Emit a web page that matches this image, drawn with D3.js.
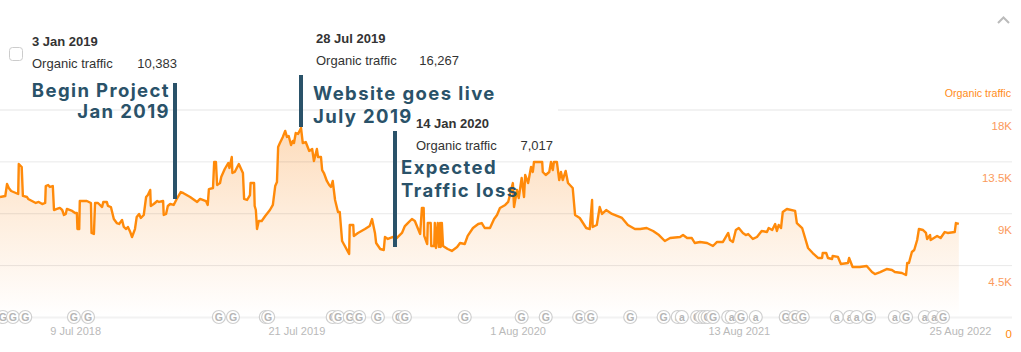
<!DOCTYPE html>
<html>
<head>
<meta charset="utf-8">
<script src="https://cdn.jsdelivr.net/npm/d3@7"></script>
<style>
    body { margin: 0; background: #fff; }
    text { font-family: "Liberation Sans", Arial, sans-serif; }
    .note { font-family: Inter, "Open Sans", sans-serif; font-weight: 700; font-size: 18.5px; letter-spacing: 1.4px; fill: #2a5269; }
    .tip { font-size: 13px; fill: #333; }
</style>
</head>
<body>
<div id="chart"></div>
<script>
const startDate = new Date(2018, 2, 3);

// days since startDate
const trafficDays = [
    0, 9, 12, 15, 19, 31, 32, 37, 39, 46, 48, 61, 66, 72, 77, 78, 82, 85, 90, 92,
    97, 102, 106, 109, 112, 114, 123, 128, 131, 132, 135, 136, 148, 155, 156, 160, 162, 167, 174, 176,
    182, 184, 189, 194, 199, 203, 208, 211, 215, 218, 222, 225, 230, 233, 237, 240, 245, 249, 252, 256,
    257, 262, 268, 271, 278, 279, 283, 286, 290, 296, 302, 308, 312, 324, 336, 341, 351, 354, 356, 363,
    365, 368, 370, 375, 377, 383, 389, 391, 395, 396, 400, 407, 414, 416, 421, 426, 427, 433, 434, 436,
    438, 441, 446, 452, 460, 465, 469, 472, 474, 477, 482, 486, 489, 492, 496, 499, 501, 504, 508, 513,
    516, 521, 527, 532, 535, 540, 542, 547, 549, 552, 557, 561, 564, 567, 571, 576, 579, 583, 595, 596,
    602, 603, 610, 622, 630, 634, 639, 641, 648, 654, 656, 661, 670, 676, 685, 690, 695, 702, 707, 716,
    719, 722, 723, 728, 729, 734, 735, 740, 741, 743, 746, 748, 750, 751, 753, 755, 763, 770, 779, 784,
    792, 797, 806, 815, 821, 826, 835, 842, 847, 852, 861, 866, 874, 876, 881, 884, 889, 893, 895, 900,
    905, 908, 910, 924, 925, 930, 936, 939, 942, 944, 949, 953, 956, 959, 964, 968, 976, 980, 988, 999,
    1005, 1009, 1010, 1017, 1022, 1026, 1033, 1043, 1060, 1070, 1082, 1091, 1102, 1113, 1123, 1133, 1142, 1159, 1164, 1171,
    1179, 1184, 1193, 1205, 1215, 1222, 1232, 1241, 1244, 1249, 1254, 1259, 1266, 1271, 1275, 1283, 1290, 1298, 1307, 1310,
    1316, 1321, 1324, 1327, 1331, 1334, 1341, 1355, 1358, 1367, 1377, 1385, 1394, 1401, 1402, 1408, 1411, 1418, 1419, 1428,
    1433, 1445, 1447, 1453, 1465, 1477, 1486, 1491, 1500, 1511, 1520, 1525, 1537, 1544, 1546, 1549, 1554, 1558, 1563, 1566,
    1573, 1578, 1580, 1585, 1586, 1597, 1603, 1610, 1615, 1627, 1629, 1634
];

const trafficValues = [
    10410, 10500, 11540, 11190, 10930, 10670, 13270, 13010, 10500, 10410, 10240, 9890, 9980, 9800, 9890, 11360, 11450, 11280, 11360, 9280,
    9370, 9460, 9280, 8850, 8940, 9370, 9200, 9020, 9020, 7630, 7630, 10060, 10060, 9890, 7290, 7200, 9890, 9890, 9540, 9980,
    9980, 9630, 9540, 8500, 8150, 8070, 8410, 7810, 7630, 7810, 7370, 6940, 7630, 8680, 8940, 8590, 8850, 10410, 10580, 11020,
    9630, 9800, 10060, 9980, 10060, 8850, 8940, 9630, 9800, 9720, 10320, 10840, 10760, 10410, 9980, 10240, 10060, 9720, 11100, 11190,
    13450, 13450, 11450, 11620, 12150, 12840, 13360, 12930, 13880, 12490, 12580, 13270, 12490, 10240, 10150, 10580, 11620, 11620, 9630, 9280,
    7630, 8330, 8330, 8760, 9280, 9720, 11360, 11710, 14750, 15090, 15620, 16140, 15620, 15700, 14920, 15270, 15090, 15960, 15880, 16400,
    15090, 15180, 14400, 14570, 13530, 14570, 13880, 13880, 12750, 12490, 11800, 11450, 11280, 11800, 10150, 9110, 9110, 6590, 5470, 7980,
    7980, 7030, 7290, 7630, 7890, 8500, 7290, 6420, 5900, 5810, 6940, 6770, 6940, 6850, 7290, 7890, 8150, 8500, 8330, 7200,
    9460, 9460, 7030, 6330, 8150, 8150, 6160, 6160, 8150, 5990, 8150, 6070, 8150, 6070, 8150, 6160, 5900, 5730, 6070, 6420,
    6330, 7030, 7720, 8070, 8150, 7720, 7720, 8500, 8850, 9460, 9720, 9980, 11620, 9540, 11020, 10320, 12060, 10410, 12320, 11620,
    13010, 12580, 13450, 13450, 12580, 12320, 12580, 13450, 12750, 13450, 13450, 11880, 12580, 11880, 12670, 11620, 11190, 8850, 8590, 7720,
    7630, 10150, 7810, 7980, 9540, 8940, 9280, 8940, 8590, 7980, 7630, 7630, 7720, 7460, 7110, 6590, 6850, 6940, 7110, 6850,
    6850, 6420, 6510, 6420, 6160, 6510, 6510, 7290, 6680, 6510, 7550, 7720, 7290, 7110, 7200, 6770, 6940, 7460, 7370, 7720,
    7550, 8070, 7460, 7980, 7720, 9110, 9370, 9200, 8150, 7720, 5990, 5550, 5120, 5120, 5550, 5550, 5120, 5030, 5290, 5210,
    4600, 4680, 5120, 4340, 4340, 4420, 3900, 3730, 3900, 4160, 4080, 3900, 3820, 3640, 4680, 4680, 5640, 5810, 6680, 7630,
    7550, 7290, 6770, 7110, 6680, 7030, 6850, 7370, 7290, 7370, 8150, 8070
];

const yTicks = [0, 4500, 9000, 13500, 18000];
const yTickLabels = ["0", "4.5K", "9K", "13.5K", "18K"];

const xTickDates = ["2018-07-09", "2019-07-21", "2020-08-01", "2021-08-13", "2022-08-25"];
const xTickLabels = ["9 Jul 2018", "21 Jul 2019", "1 Aug 2020", "13 Aug 2021", "25 Aug 2022"];

// update markers along the bottom line, also days since startDate
const markerDays = [
    5, 22, 43, 126, 150, 373, 397, 453, 457, 567, 576, 596, 612, 644, 680, 690, 792, 889, 930, 987,
    1007, 1074, 1131, 1155, 1162, 1188, 1196, 1201, 1206, 1215, 1241, 1247, 1263, 1288, 1339, 1355, 1368, 1426, 1448, 1460,
    1481, 1525, 1544, 1576, 1592, 1607
];
const markerKinds = [
    "G", "G", "G", "G", "G", "G", "G", "G", "G", "G", "G", "G", "G", "G", "G", "G", "G", "G", "G", "G",
    "G", "G", "G", "a", "a", "G", "G", "G", "G", "G", "a", "a", "G", "a", "G", "G", "G", "a", "a", "a",
    "G", "a", "G", "a", "a", "G"
];

const width = 1021;
const height = 352;

const dayToDate = d => d3.timeDay.offset(startDate, d);
const parseDate = d3.timeParse("%Y-%m-%d");

const x = d3.scaleTime()
    .domain([startDate, parseDate("2022-08-25")])
    .range([0, 960]);

const y = d3.scaleLinear()
    .domain([0, 18000])
    .range([317, 109.5]);

const points = trafficDays.map((d, i) => ({ date: dayToDate(d), value: trafficValues[i] }));

const svg = d3.select("#chart")
    .append("svg")
    .attr("width", width)
    .attr("height", height)
    .style("display", "block");

const gradient = svg.append("defs")
    .append("linearGradient")
    .attr("id", "area-fill")
    .attr("gradientUnits", "userSpaceOnUse")
    .attr("x1", 0).attr("x2", 0)
    .attr("y1", y(18000)).attr("y2", y(0));
gradient.append("stop").attr("offset", "0%").attr("stop-color", "#fdd8b4");
gradient.append("stop").attr("offset", "50%").attr("stop-color", "#feeddc");
gradient.append("stop").attr("offset", "100%").attr("stop-color", "#ffffff");

const area = d3.area()
    .x(d => x(d.date))
    .y0(y(0))
    .y1(d => y(d.value));

const line = d3.line()
    .x(d => x(d.date))
    .y(d => y(d.value));

svg.append("path")
    .datum(points)
    .attr("fill", "url(#area-fill)")
    .attr("d", area);

// y axis carries the gridlines and the labels under them
const yAxis = svg.append("g")
    .attr("transform", "translate(1012,0)")
    .call(d3.axisLeft(y)
        .tickValues(yTicks)
        .tickSize(1012)
        .tickFormat((d, i) => yTickLabels[i]));

yAxis.select(".domain").remove();
yAxis.selectAll("line")
    .attr("stroke", d => (d === 0 || d === 18000) ? "#f2f2f2" : "rgba(0,0,0,0.09)")
    .attr("stroke-width", d => (d === 0 || d === 18000) ? 2 : 1);
yAxis.selectAll("text")
    .attr("x", 0)
    .attr("y", 20)
    .attr("dy", 0)
    .attr("text-anchor", "end")
    .style("font-family", "'Liberation Sans', Arial, sans-serif")
    .style("font-size", "11.5px")
    .attr("fill", d => d === 0 ? "#ff8a0a" : "#fb9a5c");

const xAxis = svg.append("g")
    .attr("transform", "translate(0,324)")
    .call(d3.axisBottom(x)
        .tickValues(xTickDates.map(parseDate))
        .tickSize(0)
        .tickPadding(3)
        .tickFormat((d, i) => xTickLabels[i]));

xAxis.select(".domain").remove();
xAxis.selectAll("text")
    .style("font-family", "'Liberation Sans', Arial, sans-serif")
    .style("font-size", "11px")
    .attr("fill", "#b9b9b9");

// white backing of the third tooltip hides the top gridline
svg.append("rect")
    .attr("x", 411)
    .attr("y", 104)
    .attr("width", 147)
    .attr("height", 50)
    .attr("fill", "#fff");

svg.append("path")
    .datum(points)
    .attr("fill", "none")
    .attr("stroke", "#ff8a0a")
    .attr("stroke-width", 2.4)
    .attr("stroke-linejoin", "round")
    .attr("d", line);

const markers = svg.append("g")
    .selectAll("g")
    .data(markerDays)
    .enter().append("g")
    .attr("transform", d => `translate(${x(dayToDate(d))},${y(0)})`);

markers.append("circle")
    .attr("r", 6.5)
    .attr("fill", "#fff")
    .attr("stroke", "#cfcfcf")
    .attr("stroke-width", 1.2);

markers.append("text")
    .attr("text-anchor", "middle")
    .attr("y", 3.5)
    .style("font-size", "10.5px")
    .style("font-weight", "bold")
    .attr("fill", "#b5b5b5")
    .text((d, i) => markerKinds[i]);

// tooltips
function drawTip(left, right, top, date, value) {
    svg.append("text").attr("class", "tip").attr("x", left).attr("y", top)
        .style("font-weight", "bold").text(date);
    svg.append("text").attr("class", "tip").attr("x", left).attr("y", top + 22)
        .text("Organic traffic");
    svg.append("text").attr("class", "tip").attr("x", right).attr("y", top + 22)
        .attr("text-anchor", "end").text(value);
}
drawTip(32, 177, 46, "3 Jan 2019", "10,383");
drawTip(316, 459, 43, "28 Jul 2019", "16,267");
drawTip(416, 553, 128, "14 Jan 2020", "7,017");

// hand drawn annotations
function drawBar(left, top, bottom) {
    svg.append("rect")
        .attr("x", left)
        .attr("y", top)
        .attr("width", 4)
        .attr("height", bottom - top)
        .attr("fill", "#2a5269");
}
function drawNote(px, py, anchor, label) {
    svg.append("text")
        .attr("class", "note")
        .attr("x", px)
        .attr("y", py)
        .attr("text-anchor", anchor)
        .text(label);
}
drawBar(173, 83, 199);
drawBar(299, 75, 127);
drawBar(393, 131, 247);
drawNote(170, 97, "end", "Begin Project");
drawNote(170, 118, "end", "Jan 2019");
drawNote(313, 100, "start", "Website goes live");
drawNote(313, 123, "start", "July 2019");
drawNote(401, 174, "start", "Expected");
drawNote(401, 197, "start", "Traffic loss");

// legend, checkbox and collapse arrow
svg.append("text")
    .attr("x", 1011)
    .attr("y", 97)
    .attr("text-anchor", "end")
    .style("font-size", "10.7px")
    .attr("fill", "#ff8c1a")
    .text("Organic traffic");

svg.append("rect")
    .attr("x", 9.5)
    .attr("y", 47.5)
    .attr("width", 13)
    .attr("height", 13)
    .attr("rx", 3)
    .attr("fill", "#fff")
    .attr("stroke", "#ccc");

svg.append("path")
    .attr("d", d3.line()([[998, 23], [1003.5, 17.5], [1009, 23]]))
    .attr("fill", "none")
    .attr("stroke", "#bbb")
    .attr("stroke-width", 2);
</script>
</body>
</html>
